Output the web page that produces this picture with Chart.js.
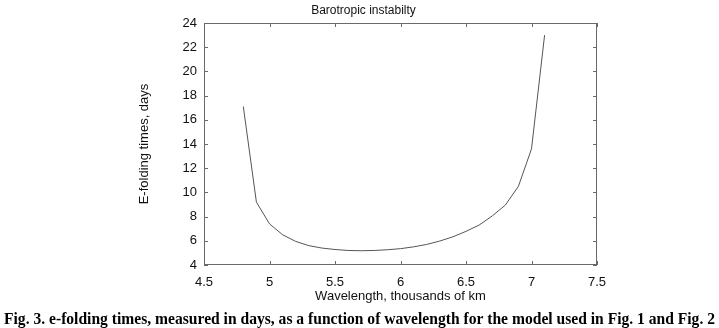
<!DOCTYPE html>
<html lang="en">
<head>
    <meta charset="UTF-8">
    <title>Barotropic instabilty</title>
    <script src="https://cdn.jsdelivr.net/npm/chart.js"></script>
    <style>
        html, body { margin: 0; padding: 0; background: #fff; }
        #wrap { width: 719px; height: 328px; }
    </style>
</head>
<body>
<div id="wrap"><canvas id="myChart" width="719" height="328"></canvas></div>

<script>
    // valores
    const wavelength = [4.8, 4.9, 5.0, 5.1, 5.2, 5.3, 5.4, 5.5, 5.6, 5.7, 5.8, 5.9, 6.0,
                        6.1, 6.2, 6.3, 6.4, 6.5, 6.6, 6.7, 6.8, 6.9, 7.0, 7.1];
    const efolding = [17.1, 9.2, 7.4, 6.5, 5.95, 5.6, 5.4, 5.28, 5.2, 5.18, 5.2, 5.26, 5.35,
                      5.5, 5.7, 5.98, 6.33, 6.78, 7.3, 8.05, 8.95, 10.5, 13.6, 23.0];
    const xTicks = [4.5, 5, 5.5, 6, 6.5, 7, 7.5];
    const yTicks = [4, 6, 8, 10, 12, 14, 16, 18, 20, 22, 24];

    const titulo = 'Barotropic instabilty';
    const tituloX = 'Wavelength, thousands of km';
    const tituloY = 'E-folding times, days';
    const legenda = 'Fig. 3. e-folding times, measured in days, as a function of wavelength for the model used in Fig. 1 and Fig. 2';

    // moldura + ticks para dentro
    const moldura = {
        id: 'moldura',
        afterDatasetsDraw(chart) {
            const {ctx, chartArea: a, scales: {x, y}} = chart;
            ctx.save();
            ctx.strokeStyle = '#6a6a6a';
            ctx.lineWidth = 1;
            ctx.strokeRect(a.left + 0.5, a.top + 0.5, a.right - a.left - 1, a.bottom - a.top - 1);
            ctx.beginPath();
            xTicks.forEach(v => {
                const px = Math.round(x.getPixelForValue(v)) + 0.5;
                ctx.moveTo(px, a.bottom); ctx.lineTo(px, a.bottom - 4);
                ctx.moveTo(px, a.top); ctx.lineTo(px, a.top + 4);
            });
            yTicks.forEach(v => {
                const py = Math.round(y.getPixelForValue(v)) + 0.5;
                ctx.moveTo(a.left, py); ctx.lineTo(a.left + 4, py);
                ctx.moveTo(a.right, py); ctx.lineTo(a.right - 4, py);
            });
            ctx.stroke();
            ctx.restore();
        },
        afterDraw(chart) {
            // legenda da figura embaixo
            const ctx = chart.ctx;
            ctx.save();
            ctx.font = 'bold 16px "Liberation Serif", serif';
            ctx.fillStyle = '#000';
            ctx.textBaseline = 'alphabetic';
            const w = ctx.measureText(legenda).width;
            const alvo = 711;
            ctx.translate(4, 324);
            ctx.scale(alvo / w, 1);
            ctx.fillText(legenda, 0, 0);
            ctx.restore();
        }
    };

    new Chart(document.getElementById('myChart'), {
        type: 'line',
        data: {
            datasets: [{
                data: wavelength.map((v, i) => ({x: v, y: efolding[i]})),
                borderColor: '#555',
                borderWidth: 1,
                pointRadius: 0,
                fill: false,
                tension: 0
            }]
        },
        options: {
            responsive: false,
            animation: false,
            events: [],
            layout: { padding: { left: 130, right: 122, top: 0, bottom: 24 } },
            plugins: {
                legend: { display: false },
                tooltip: { enabled: false },
                title: {
                    display: true,
                    text: titulo,
                    color: '#111',
                    font: { family: '"Liberation Sans", Arial, sans-serif', size: 12, weight: 'normal' },
                    padding: { top: 3, bottom: 5.6 }
                }
            },
            scales: {
                x: {
                    type: 'linear',
                    min: 4.5,
                    max: 7.5,
                    afterBuildTicks: s => { s.ticks = xTicks.map(v => ({value: v})); },
                    afterFit: s => { s.height = 39; },
                    grid: { display: false, drawTicks: false },
                    border: { display: false },
                    ticks: {
                        color: '#111',
                        padding: 10,
                        maxRotation: 0,
                        callback: v => String(v),
                        font: { family: '"Liberation Sans", Arial, sans-serif', size: 13 }
                    },
                    title: {
                        display: true,
                        text: tituloX,
                        color: '#111',
                        padding: { top: 0, bottom: 0 },
                        font: { family: '"Liberation Sans", Arial, sans-serif', size: 13 }
                    }
                },
                y: {
                    min: 4,
                    max: 24,
                    afterBuildTicks: s => { s.ticks = yTicks.map(v => ({value: v})); },
                    afterFit: s => { s.width = 74; },
                    grid: { display: false, drawTicks: false },
                    border: { display: false },
                    ticks: {
                        color: '#111',
                        padding: 7,
                        callback: v => String(v),
                        font: { family: '"Liberation Sans", Arial, sans-serif', size: 13 }
                    },
                    title: {
                        display: true,
                        text: tituloY,
                        color: '#111',
                        padding: { top: 7, bottom: 0 },
                        font: { family: '"Liberation Sans", Arial, sans-serif', size: 13 }
                    }
                }
            }
        },
        plugins: [moldura]
    });
</script>
</body>
</html>
